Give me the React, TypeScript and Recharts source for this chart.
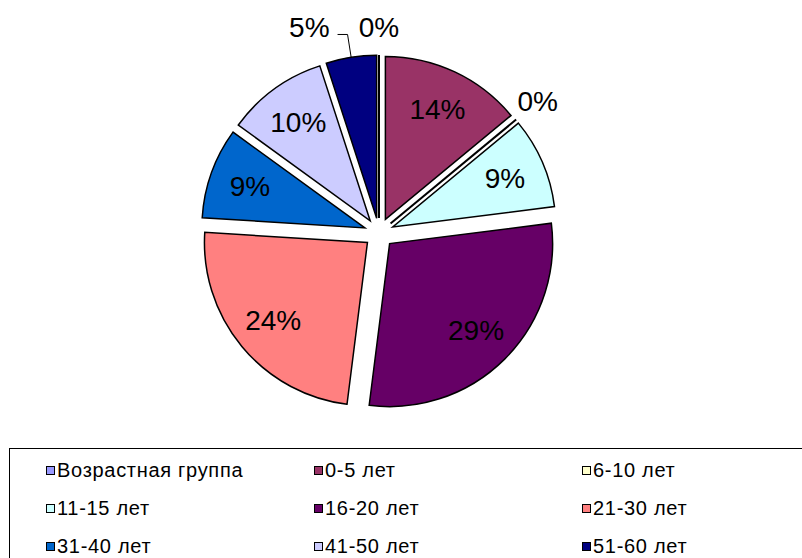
import { Legend, Pie, PieChart, Sector, Cell } from 'recharts'

const categories = ['Возрастная группа', '0-5 лет', '6-10 лет', '11-15 лет', '16-20 лет', '21-30 лет', '31-40 лет', '41-50 лет', '51-60 лет']
const shares = [0, 14, 0, 9, 29, 24, 9, 10, 5]
const colors = ['#9999FF', '#993366', '#FFFFCC', '#CCFFFF', '#660066', '#FF8080', '#0066CC', '#CCCCFF', '#000080']

const data = categories.map((name, i) => ({ name, value: shares[i] }))

const FONT = '"Liberation Sans", Arial, sans-serif'
const RAD = Math.PI / 180
const EXPLODE = 15

// slices are drawn here, pushed out along their mid angle (the default sectors stay invisible)
function renderSlice(props: any) {
  const { cx, cy, outerRadius, startAngle, endAngle, midAngle, index, value, percent } = props
  const ux = Math.cos(-midAngle * RAD)
  const uy = Math.sin(-midAngle * RAD)
  const ox = cx + EXPLODE * ux
  const oy = cy + EXPLODE * uy
  const at = (r: number) => [ox + r * ux, oy + r * uy]
  const pct = `${Math.round(percent * 100)}%`

  let shape
  if (value === 0) {
    const [x2, y2] = at(outerRadius)
    shape = <line x1={ox} y1={oy} x2={x2} y2={y2} stroke="#000" strokeWidth={2} />
  } else {
    shape = (
      <Sector cx={ox} cy={oy} innerRadius={0} outerRadius={outerRadius} startAngle={startAngle}
        endAngle={endAngle} fill={colors[index]} stroke="#000" strokeWidth={1.5} />
    )
  }

  let text
  if (value === 0) {
    const [tx, ty] = at(outerRadius + 28)
    text = <text x={tx} y={ty} dy="0.35em" textAnchor="middle" fontSize={28} fontFamily={FONT} fill="#000">{pct}</text>
  } else if (percent < 0.07) {
    const [x1, y1] = at(outerRadius)
    const [x2, y2] = at(outerRadius + 23)
    text = (
      <g>
        <polyline points={`${x1},${y1} ${x2},${y2} ${x2 - 10},${y2}`} fill="none" stroke="#000" strokeWidth={1} />
        <text x={x2 - 18} y={y2 - 7} dy="0.35em" textAnchor="end" fontSize={28} fontFamily={FONT} fill="#000">{pct}</text>
      </g>
    )
  } else {
    const [tx, ty] = at(outerRadius * 0.75)
    text = <text x={tx} y={ty} dy="0.35em" textAnchor="middle" fontSize={28} fontFamily={FONT} fill="#000">{pct}</text>
  }

  return (
    <g key={`slice-${index}`}>
      {shape}
      {text}
    </g>
  )
}

const colLeft = [36, 304, 572]
const rowMid = [21, 59, 97]

function LegendBox() {
  return (
    <div style={{ position: 'relative', width: 800, height: 120, border: '1px solid #000', boxSizing: 'border-box', background: '#fff' }}>
      {categories.map((name, i) => (
        <div key={name} style={{ position: 'absolute', left: colLeft[i % 3], top: rowMid[Math.floor(i / 3)] - 12, height: 24, display: 'flex', alignItems: 'center' }}>
          <span style={{ display: 'inline-block', width: 9, height: 9, boxSizing: 'border-box', border: '1px solid #000', background: colors[i], marginRight: 2 }} />
          <span style={{ fontFamily: FONT, fontSize: 20, letterSpacing: 0.7, color: '#000', whiteSpace: 'nowrap' }}>{name}</span>
        </div>
      ))}
    </div>
  )
}

export default function App() {
  return (
    <div style={{ position: 'absolute', left: 0, top: 0, width: 802, height: 558, background: '#fff', overflow: 'hidden' }}>
      <PieChart width={802} height={558} margin={{ top: 0, right: 0, bottom: 0, left: 0 }}>
        <Pie data={data} dataKey="value" nameKey="name" cx={379} cy={233} outerRadius={163}
          startAngle={90} endAngle={-270} stroke="none" label={renderSlice} labelLine={false}
          isAnimationActive={false}>
          {data.map((d) => <Cell key={d.name} fill="none" stroke="none" />)}
        </Pie>
        <Legend content={() => <LegendBox />} wrapperStyle={{ left: 9, top: 448, width: 800, height: 120 }} />
      </PieChart>
    </div>
  )
}
